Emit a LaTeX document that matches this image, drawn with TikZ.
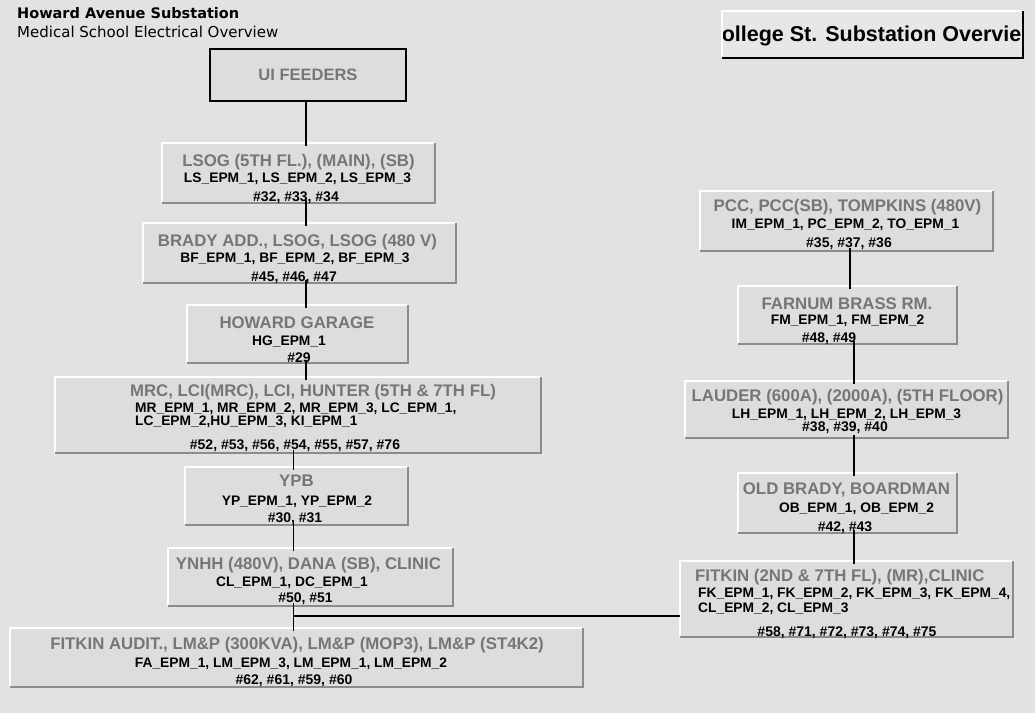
\documentclass[tikz,border=0pt]{standalone}
\usepackage{fontspec}
\setmainfont{Liberation Sans}
\newfontfamily\dejavu{DejaVu Sans}
\definecolor{bgcol}{RGB}{226,226,226}
\definecolor{boxfill}{RGB}{221,221,221}
\definecolor{edgeshade}{RGB}{140,140,140}
\definecolor{ttlgray}{RGB}{118,118,118}
% raised panel given by its west, north, east and south edges
\newcommand\panelbox[5]{%
  \node[panel, minimum width={(#4-#2)*1pt}, minimum height={(#5-#3)*1pt}]
    (#1) at ({(#2+#4)/2},{(#3+#5)/2}) {};}
\begin{document}
\begin{tikzpicture}[x=1pt,y=-1pt,
  panel/.style={fill=boxfill, inner sep=0pt, outer sep=0pt},
  hilite/.style={draw=white, line width=2.4pt},
  lowlite/.style={draw=edgeshade, line width=1.4pt},
  ttl/.style={anchor=base, inner sep=0pt, text=ttlgray, font=\bfseries\fontsize{16.8}{18}\selectfont},
  sub/.style={anchor=base, inner sep=0pt, font=\bfseries\fontsize{13.8}{15}\selectfont},
  num/.style={anchor=base, inner sep=0pt, font=\bfseries\fontsize{14}{15}\selectfont},
  wire/.style={draw=black, line width=1.6pt, shorten <=-3pt, shorten >=-3pt},
]
% page
\fill[bgcol] (0,0) rectangle (1035,713);
\useasboundingbox (0,0) rectangle (1035,713);

% heading
\node[anchor=base west, inner sep=0pt, font=\dejavu\bfseries\fontsize{14.5}{16}\selectfont] (head) at (17,18.5) {Howard Avenue Substation};
\node[anchor=base west, inner sep=0pt, font=\dejavu\fontsize{15}{17}\selectfont] (subhead) at (17,37) {Medical School Electrical Overview};

% link button to the other substation
\node[fill=boxfill!70!white, minimum width=301pt, minimum height=47pt, inner sep=0pt] (coll) at (872.5,34.5) {};
\node[anchor=base, inner sep=0pt, font=\bfseries\fontsize{21.5}{24}\selectfont] (colltext) at (871.5,41.7) {ollege St. Substation Overvie};
\draw[draw=white, line width=2pt] (coll.south west) -- (coll.north west) -- (coll.north east);
\draw[draw=black, line width=2.2pt] (coll.north east) -- (coll.south east) -- (coll.south west);

% feeder source
\node[draw=black, line width=1.5pt, fill=boxfill, minimum width=196pt, minimum height=52pt, inner sep=0pt,
      text=ttlgray, font=\bfseries\fontsize{16.5}{18}\selectfont] (ui) at (308,75) {UI FEEDERS};

% panels
\panelbox{lsog}{162}{143}{435}{203}
\panelbox{brady}{143}{223}{456}{283}
\panelbox{howard}{187}{305}{408}{363}
\panelbox{mrc}{55}{377}{541}{453}
\panelbox{ypb}{185}{467}{408}{525}
\panelbox{ynhh}{168}{548}{453}{606}
\panelbox{fitaud}{10}{628}{583}{687}
\panelbox{pcc}{700}{191}{993}{251}
\panelbox{farnum}{738}{286}{957}{344}
\panelbox{lauder}{685}{381}{1008}{438}
\panelbox{oldb}{738}{473}{957}{533}
\panelbox{fitkin}{680}{561}{1013}{637}

\foreach \n in {lsog,brady,howard,mrc,ypb,ynhh,fitaud,pcc,farnum,lauder,oldb,fitkin}{
  \draw[hilite] (\n.south west) -- (\n.north west) -- (\n.north east);
  \draw[lowlite] (\n.north east) -- (\n.south east) -- (\n.south west);
}

% panel labels
\node[ttl] (lsog-a) at (298.5,166) {LSOG (5TH FL.), (MAIN), (SB)};
\node[sub] (lsog-b) at (297.5,182) {LS\_EPM\_1, LS\_EPM\_2, LS\_EPM\_3};
\node[num] (lsog-c) at (296,201.5) {\#32, \#33, \#34};

\node[ttl] (brady-a) at (297.5,246) {BRADY ADD., LSOG, LSOG (480 V)};
\node[sub] (brady-b) at (295,262) {BF\_EPM\_1, BF\_EPM\_2, BF\_EPM\_3};
\node[num] (brady-c) at (294,281.5) {\#45, \#46, \#47};

\node[ttl] (howard-a) at (297,328) {HOWARD GARAGE};
\node[sub] (howard-b) at (289,345) {HG\_EPM\_1};
\node[num] (howard-c) at (299,362.5) {\#29};

\node[ttl] (mrc-a) at (313,396) {MRC, LCI(MRC), LCI, HUNTER (5TH \& 7TH FL)};
\node[sub, anchor=base west] (mrc-b) at (135,412) {MR\_EPM\_1, MR\_EPM\_2, MR\_EPM\_3, LC\_EPM\_1,};
\node[sub, anchor=base west] (mrc-c) at (135,425) {LC\_EPM\_2,HU\_EPM\_3, KI\_EPM\_1};
\node[num] (mrc-d) at (295,449.5) {\#52, \#53, \#56, \#54, \#55, \#57, \#76};

\node[ttl] (ypb-a) at (296.5,486) {YPB};
\node[sub] (ypb-b) at (297,505) {YP\_EPM\_1, YP\_EPM\_2};
\node[num] (ypb-c) at (295,522.5) {\#30, \#31};

\node[ttl] (ynhh-a) at (308.5,569) {YNHH (480V), DANA (SB), CLINIC};
\node[sub] (ynhh-b) at (292,586) {CL\_EPM\_1, DC\_EPM\_1};
\node[num] (ynhh-c) at (305.5,602.5) {\#50, \#51};

\node[ttl] (fitaud-a) at (297,649) {FITKIN AUDIT., LM\&P (300KVA), LM\&P (MOP3), LM\&P (ST4K2)};
\node[sub] (fitaud-b) at (291,667) {FA\_EPM\_1, LM\_EPM\_3, LM\_EPM\_1, LM\_EPM\_2};
\node[num] (fitaud-c) at (294,684.5) {\#62, \#61, \#59, \#60};

\node[ttl] (pcc-a) at (847.5,211) {PCC, PCC(SB), TOMPKINS (480V)};
\node[sub] (pcc-b) at (845.5,228) {IM\_EPM\_1, PC\_EPM\_2, TO\_EPM\_1};
\node[num] (pcc-c) at (849,247.5) {\#35, \#37, \#36};

\node[ttl] (farnum-a) at (847,309) {FARNUM BRASS RM.};
\node[sub] (farnum-b) at (847.5,324) {FM\_EPM\_1, FM\_EPM\_2};
\node[num] (farnum-c) at (829,342.5) {\#48, \#49};

\node[ttl] (lauder-a) at (847.5,401) {LAUDER (600A), (2000A), (5TH FLOOR)};
\node[sub] (lauder-b) at (846.5,418) {LH\_EPM\_1, LH\_EPM\_2, LH\_EPM\_3};
\node[num] (lauder-c) at (845,431.5) {\#38, \#39, \#40};

\node[ttl] (oldb-a) at (846.5,494) {OLD BRADY, BOARDMAN};
\node[sub] (oldb-b) at (856.5,512) {OB\_EPM\_1, OB\_EPM\_2};
\node[num] (oldb-c) at (845,531.5) {\#42, \#43};

\node[ttl, anchor=base west] (fitkin-a) at (695,581) {FITKIN (2ND \& 7TH FL), (MR),CLINIC};
\node[sub, anchor=base west] (fitkin-b) at (698,597) {FK\_EPM\_1, FK\_EPM\_2, FK\_EPM\_3, FK\_EPM\_4,};
\node[sub, anchor=base west] (fitkin-c) at (698,612) {CL\_EPM\_2, CL\_EPM\_3};
\node[num] (fitkin-d) at (847,636.5) {\#58, \#71, \#72, \#73, \#74, \#75};

% bus lines
\coordinate (xa) at (306,0);
\coordinate (xb) at (293.5,0);
\coordinate (xc) at (850,0);
\coordinate (xd) at (854,0);
\coordinate (tap) at (293.5,616);

\draw[wire, shorten <=0pt] (ui.south -| xa) -- (lsog.north -| xa);
\draw[wire] (lsog.south -| xa) -- (brady.north -| xa);
\draw[wire] (brady.south -| xa) -- (howard.north -| xa);
\draw[wire] (howard.south -| xa) -- (mrc.north -| xa);
\draw[wire] (mrc.south -| xb) -- (ypb.north -| xb);
\draw[wire] (ypb.south -| xb) -- (ynhh.north -| xb);
\draw[wire] (ynhh.south -| xb) -- (fitaud.north -| xb);
\draw[wire, shorten <=0pt, shorten >=0pt] (tap) -- (tap -| fitkin.west);

\draw[wire] (pcc.south -| xc) -- (farnum.north -| xc);
\draw[wire] (farnum.south -| xd) -- (lauder.north -| xd);
\draw[wire] (lauder.south -| xd) -- (oldb.north -| xd);
\draw[wire] (oldb.south -| xd) -- (fitkin.north -| xd);
\end{tikzpicture}
\end{document}
